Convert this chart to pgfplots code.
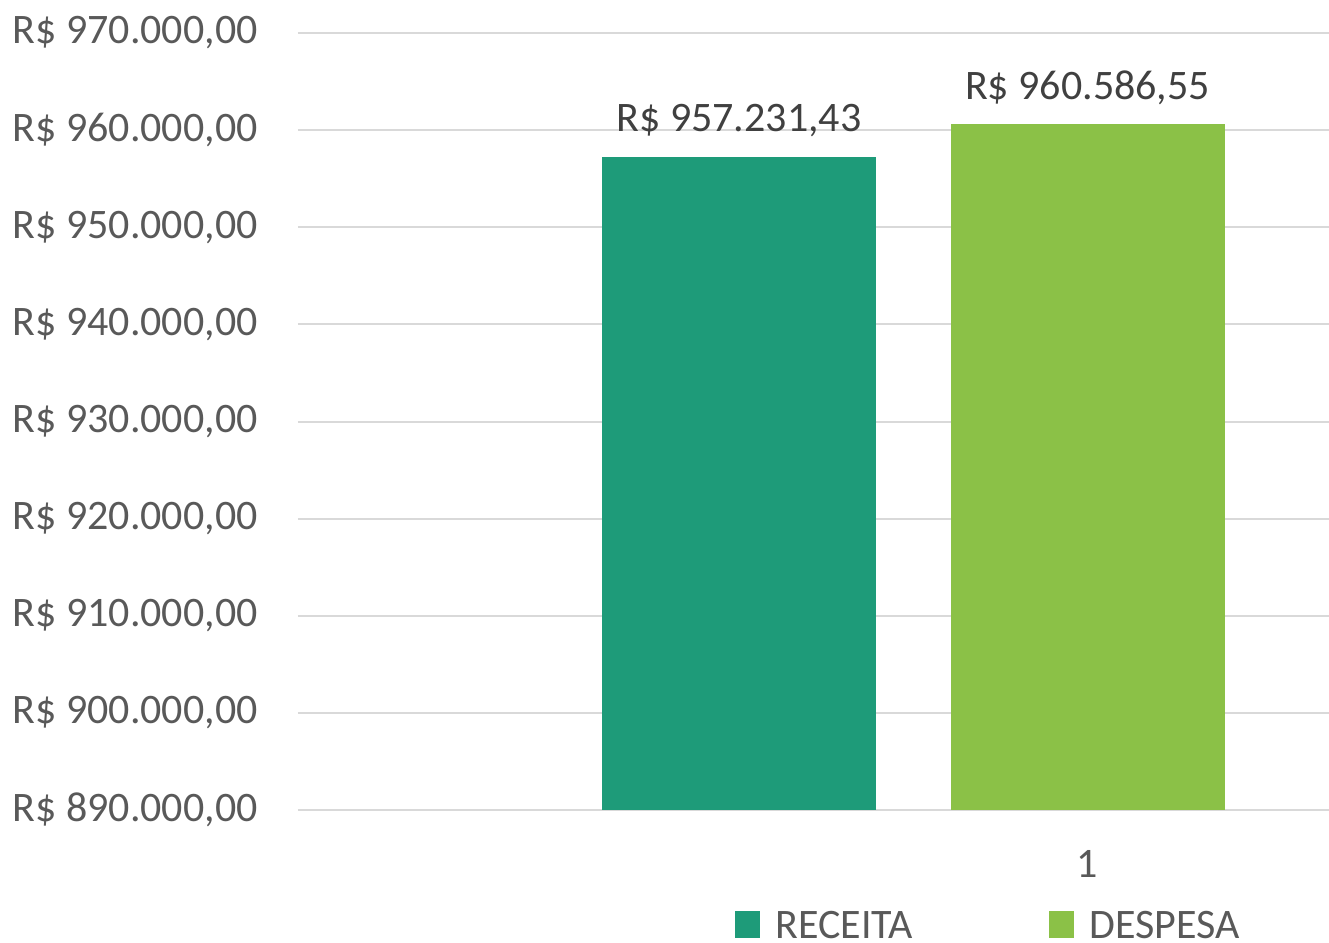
\documentclass[border=0pt]{standalone}
\usepackage{pgfplots}
\pgfplotsset{compat=1.18}
\usepackage{fontspec}
\setmainfont{Carlito}
\definecolor{receita}{HTML}{1E9B79}
\definecolor{despesa}{HTML}{8BC147}
\definecolor{txtgray}{HTML}{595959}
\definecolor{lblgray}{HTML}{404040}
\definecolor{gridgray}{HTML}{D9D9D9}
\begin{document}
\begin{tikzpicture}
\useasboundingbox (-149pt,-66.5pt) rectangle (515.5pt,405pt);
\begin{axis}[
  scale only axis,
  width=515.5pt, height=388.5pt,
  xmin=298, xmax=1329,
  ymin=890000, ymax=970000,
  scaled ticks=false,
  axis line style={draw=none},
  ymajorgrids,
  grid style={draw=gridgray, line width=1pt},
  major tick style={draw=none},
  ytick={890000,900000,910000,920000,930000,940000,950000,960000,970000},
  yticklabels={{R\$ 890.000,00},{R\$ 900.000,00},{R\$ 910.000,00},{R\$ 920.000,00},{R\$ 930.000,00},{R\$ 940.000,00},{R\$ 950.000,00},{R\$ 960.000,00},{R\$ 970.000,00}},
  yticklabel style={anchor=east, inner sep=0pt, xshift=-20pt, font=\fontsize{21}{25}\selectfont, text=txtgray},
  xtick={1087.5},
  xticklabels={1},
  xticklabel style={anchor=center, inner sep=0pt, yshift=-22.5pt, font=\fontsize{21}{25}\selectfont, text=txtgray},
  /pgf/number format/assume math mode=true,
  ybar,
  bar width=137pt,
  point meta=explicit symbolic,
  nodes near coords,
  every node near coord/.append style={anchor=base, inner sep=0pt, yshift=12.6pt, font=\fontsize{21}{25}\selectfont, text=lblgray},
  legend columns=2,
  legend style={at={(0.6707,-0.1480)}, anchor=center, draw=none, fill=none,
    inner sep=0pt,
    nodes={text depth=0pt, inner ysep=1pt},
    font=\fontsize{21}{25}\selectfont, text=txtgray,
    /tikz/every odd column/.append style={column sep=5.5pt},
    /tikz/every even column/.append style={column sep=66pt},
    legend cell align=left},
  legend image code/.code={\fill[#1,draw=none] (0pt,-6.75pt) rectangle (12.5pt,6.75pt);},
]
\addplot[fill=receita, draw=none, bar shift=0pt] coordinates {(739,957231.43) [R\$ 957.231,43]};
\addlegendentry{RECEITA}
\addplot[fill=despesa, draw=none, bar shift=0pt] coordinates {(1087.5,960586.55) [R\$ 960.586,55]};
\addlegendentry{DESPESA}
\end{axis}
\end{tikzpicture}
\end{document}
